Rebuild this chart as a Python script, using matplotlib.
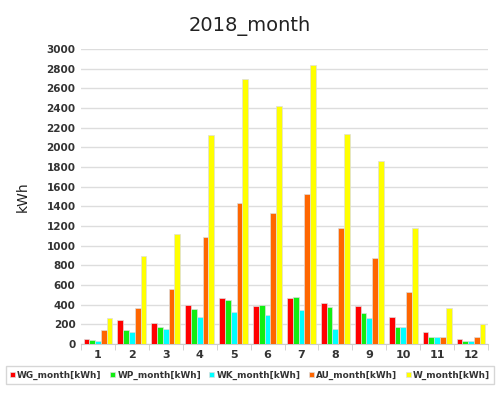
import matplotlib
matplotlib.use("Agg")
import matplotlib.pyplot as plt
import numpy as np

# Monthly energy values (kWh)
months = [str(m) for m in range(1, 13)]
wg_month = [55, 250, 215, 395, 465, 385, 470, 415, 390, 280, 125, 55]
wp_month = [40, 145, 175, 355, 450, 400, 480, 375, 315, 175, 75, 30]
wk_month = [35, 125, 150, 280, 330, 295, 350, 150, 270, 175, 75, 30]
au_month = [140, 370, 565, 1085, 1440, 1335, 1525, 1185, 880, 525, 75, 75]
w_month = [270, 900, 1115, 2125, 2695, 2420, 2835, 2135, 1860, 1180, 365, 205]

series = [wg_month, wp_month, wk_month, au_month, w_month]
labels = ['WG_month[kWh]', 'WP_month[kWh]', 'WK_month[kWh]',
          'AU_month[kWh]', 'W_month[kWh]']
colors = ['#ff0000', '#11ee11', '#00ffff', '#ff6600', '#ffff00']

fig = plt.figure(figsize=(5, 3.96), dpi=100)
ax = fig.add_axes([0.162, 0.131, 0.814, 0.745])

x = np.arange(len(months))
bw = 0.17
for i, (vals, lab, col) in enumerate(zip(series, labels, colors)):
    ax.bar(x + (i - 2) * bw, vals, bw, color=col, label=lab,
           edgecolor='#dddddd', linewidth=0.5, zorder=3)

ax.set_xlim(-0.5, len(months) - 0.5)
ax.set_ylim(0, 3000)
ax.set_yticks(np.arange(0, 3001, 200))
ax.set_xticks(x)
ax.set_xticklabels(months)
ax.set_xticks(np.arange(-0.5, len(months)), minor=True)
ax.tick_params(axis='x', which='major', length=0, labelsize=8, colors='#333333', pad=4)
ax.tick_params(axis='x', which='minor', length=4, color='#cccccc', direction='out')
ax.tick_params(axis='y', length=0, labelsize=7.5, colors='#333333', pad=4)
for t in ax.get_xticklabels() + ax.get_yticklabels():
    t.set_fontweight('bold')

ax.grid(axis='y', color='#dddddd', linewidth=1, zorder=0)
for s in ['top', 'right', 'left']:
    ax.spines[s].set_visible(False)
ax.spines['bottom'].set_color('#cccccc')

ax.set_ylabel('kWh', fontsize=10, color='#222222', labelpad=12)
fig.text(0.5, 0.935, '2018_month', ha='center', va='center', fontsize=14, color='#222222')

leg = fig.legend(loc='center', bbox_to_anchor=(0.5, 0.052), ncol=5, fontsize=6.4,
                 handlelength=0.55, handleheight=0.55, handletextpad=0.25,
                 columnspacing=0.95, frameon=True, fancybox=False,
                 edgecolor='#cccccc', borderpad=0.5)
for t in leg.get_texts():
    t.set_fontweight('bold')
    t.set_color('#333333')

fig.savefig('out.png', dpi=100)
